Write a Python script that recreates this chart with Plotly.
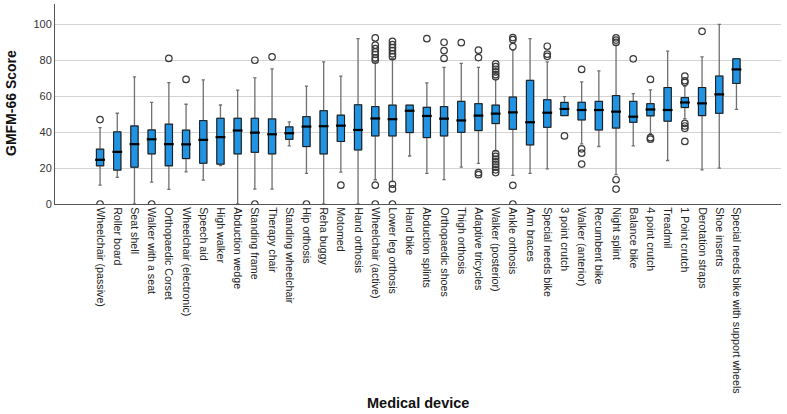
import plotly.graph_objects as go

categories = ["Wheelchair (passive)", "Roller board", "Seat shell", "Walker with a seat",
              "Orthopaedic Corset", "Wheelchair (electronic)", "Speech aid", "High walker",
              "Abduction wedge", "Standing frame", "Therapy chair", "Standing wheelchair",
              "Hip orthosis", "Reha buggy", "Motomed", "Hand orthosis", "Wheelchair (active)",
              "Lower leg orthosis", "Hand bike", "Abduction splints", "Orthopaedic shoes",
              "Thigh orthosis", "Adaptive tricycles", "Walker (posterior)", "Ankle orthosis",
              "Arm braces", "Special needs bike", "3 point crutch", "Walker (anterior)",
              "Recumbent bike", "Night splint", "Balance bike", "4 point crutch", "Treadmil",
              "1 Point crutch", "Derotation straps", "Shoe inserts",
              "Special needs bike with support wheels"]

lower_whisker = [10.5, 14.8, 0, 12.2, 8.1, 17.9, 13.3, 21.4, 0, 8.3, 8.3, 32.3, 17, 0, 17.7, 0, 13.5,
                 12.5, 26.7, 17, 13.6, 20.5, 22.6, 29.5, 15.9, 17, 19.6, 49.2, 33.5, 32, 16.3, 32.3,
                 39.2, 24.2, 47.5, 19, 20, 52.7]
q1 = [21.3, 18.9, 20.5, 27.9, 21.3, 25.3, 22.7, 22.2, 27.9, 28.8, 27.9, 36, 32, 27.9, 34.8, 30.1, 37.9,
      37.9, 39.8, 37, 37.9, 39.9, 40.9, 44.8, 41.6, 32.9, 42.7, 49.2, 46.8, 41.2, 42.3, 45.5,
      49.1, 46.1, 53.7, 49.2, 50.5, 67.1]
median = [24.6, 29, 33.3, 36, 33.3, 33.2, 35.7, 37.2, 40.9, 39.7, 38.8, 39.4, 43.1, 43.3, 43.6, 41.2, 47.6,
          47.2, 51.9, 49, 47.5, 46.5, 49.2, 50.3, 51, 45.5, 50.8, 52.9, 52.3, 52.3, 51.4, 48.6,
          52.6, 52.3, 56.5, 56, 61, 74.9]
q3 = [30.5, 40.1, 43.4, 41.2, 44.4, 41.1, 46.4, 47.7, 47.7, 47.7, 47.3, 42.9, 48.6, 51.9, 49.4, 55.2, 54.2,
      55, 55, 53.8, 54.2, 57.1, 55.8, 55, 59.5, 68.8, 58, 56.5, 56.6, 57.1, 60.3, 57.1,
      55.8, 64.8, 59.2, 64.8, 71.2, 80.8]
upper_whisker = [42.5, 50.5, 70.8, 56.6, 67.5, 55.5, 69.1, 55.1, 63.4, 70.2, 75.2, 45.7, 65.6, 79.1, 71.2,
                 92, 79.1, 81, 55, 67.4, 76, 78.3, 76, 69.5, 85.5, 92, 79.1, 59.7, 68, 74.1, 88.4,
                 61.4, 63.5, 85.1, 65.5, 81.9, 100, 80.8]
outliers = [[47, 0], [], [], [0], [81], [69.3], [], [], [], [80, 0], [81.9], [], [0], [], [10.5], [],
            [92.4, 88.4, 86.5, 84.7, 83.2, 81.3, 80, 10.5, 0],
            [90.5, 88.7, 87, 85.3, 83.6, 82, 11, 8.4, 0],
            [], [92], [90, 85.4, 81], [89.8], [85.6, 81.5, 17.5, 16.3],
            [78, 76.5, 75, 73.5, 72, 70.8, 28, 26.5, 25, 23.5, 22, 20.5, 19, 17.5],
            [92.6, 91.5, 87.6, 10.4, 0], [], [87.8, 83.4, 82.2], [37.9], [74.9, 30.7, 28.3, 22.2],
            [], [92.5, 91.2, 89.9, 13.5, 8.3], [80.8], [69.3, 36.9, 36.1], [],
            [71.2, 68.6, 67.7, 44.9, 43.4, 42.1, 34.8], [96.1], [], []]

BLUE = "#2193e3"
BOXW = 0.42

fig = go.Figure()
# whiskers (gray)
fig.add_trace(go.Box(x=categories, lowerfence=lower_whisker, q1=q1, median=median, q3=q3,
                     upperfence=upper_whisker, width=BOXW, whiskerwidth=0.45,
                     fillcolor=BLUE, line=dict(color="#707070", width=1.3),
                     boxpoints=False, hoverinfo="skip", showlegend=False))
# box outline (dark)
fig.add_trace(go.Box(x=categories, lowerfence=q1, q1=q1, median=median, q3=q3,
                     upperfence=q3, width=BOXW, whiskerwidth=0,
                     fillcolor=BLUE, line=dict(color="#1a1a1a", width=1),
                     boxpoints=False, hoverinfo="skip", showlegend=False))
# thick median
fig.add_trace(go.Scatter(x=categories, y=median, mode="markers",
                         marker=dict(symbol="line-ew", size=7,
                                     line=dict(color="#000000", width=2.2)),
                         hoverinfo="skip", showlegend=False))
# outliers
ox, oy = [], []
for c, vals in zip(categories, outliers):
    for v in vals:
        ox.append(c)
        oy.append(v)
fig.add_trace(go.Scatter(x=ox, y=oy, mode="markers",
                         marker=dict(symbol="circle-open", size=6.5,
                                     line=dict(color="#3a3a3a", width=1.2), color="#3a3a3a"),
                         hoverinfo="skip", showlegend=False))

fig.update_layout(
    width=787, height=414, autosize=False,
    margin=dict(l=55, r=6, t=4, b=210),
    plot_bgcolor="white", paper_bgcolor="white",
    boxmode="overlay",
    font=dict(family="Liberation Sans, Arial, sans-serif", color="#222"),
    xaxis=dict(type="category", categoryorder="array", categoryarray=categories,
               range=[-2.62, 39.59], showline=True, linecolor="#555", linewidth=1,
               ticks="", tickangle=90, tickfont=dict(size=10.7, color="#222"),
               showgrid=False, zeroline=False, automargin=False),
    yaxis=dict(range=[0, 111.3], tickvals=[0, 20, 40, 60, 80, 100], showline=True,
               linecolor="#555", linewidth=1, ticks="", showgrid=True, gridcolor="#d4d4d4",
               gridwidth=1, zeroline=False, tickfont=dict(size=11, color="#333"),
               automargin=False),
    annotations=[
        dict(text="<b>GMFM-66 Score</b>", xref="paper", yref="paper",
             x=(11 - 55) / 726, y=(204 - 103) / 200, showarrow=False, textangle=-90,
             font=dict(size=14, color="#111"), xanchor="center", yanchor="middle"),
        dict(text="<b>Medical device</b>", xref="paper", yref="paper",
             x=(418 - 55) / 726, y=(204 - 403) / 200, showarrow=False,
             font=dict(size=14.5, color="#111"), xanchor="center", yanchor="middle"),
    ],
)

fig.write_html("out.html", config={"displayModeBar": False},
               post_script="document.body.style.margin='0';document.body.style.padding='0';")
